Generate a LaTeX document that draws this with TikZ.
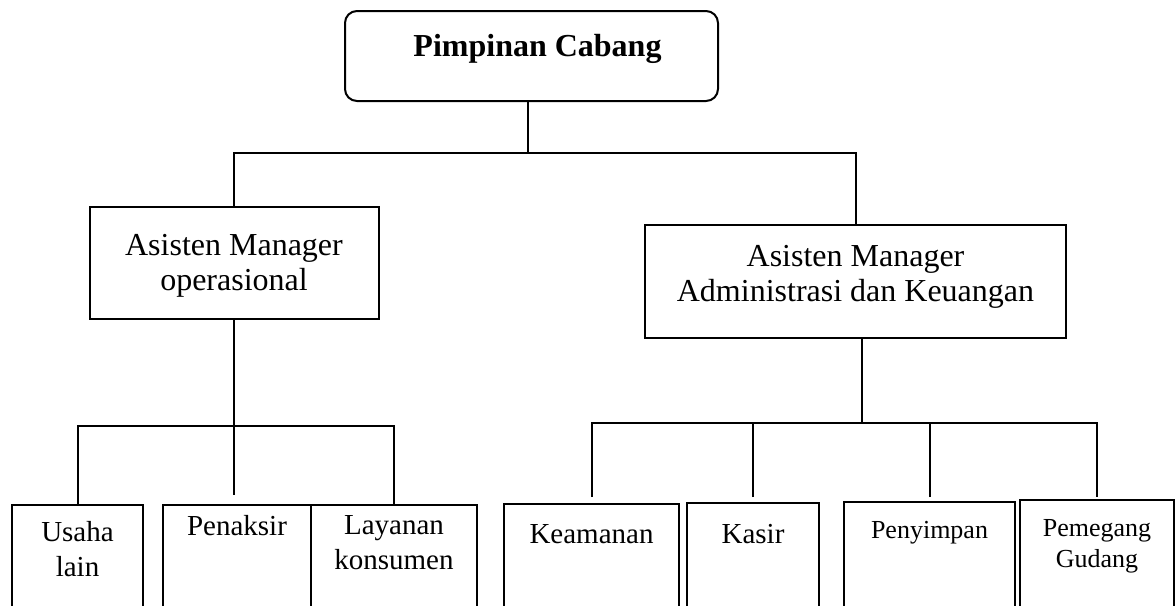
\documentclass[tikz,border=0pt]{standalone}
\usepackage{fontspec}
\setmainfont{Liberation Serif}
\begin{document}
\begin{tikzpicture}[
  x={(0.5pt,0)}, y={(0,-0.5pt)},
  line width=1pt,
  box/.style={draw, anchor=north, inner sep=0pt, align=flush center},
  head/.style={box, rounded corners=6pt, font=\fontsize{16pt}{17.5pt}\selectfont\bfseries},
  mgr/.style={box, font=\fontsize{16pt}{17.5pt}\selectfont},
  staff/.style={box, text depth=60pt, font=\fontsize{14.5pt}{17.5pt}\selectfont},
  staffsm/.style={staff, font=\fontsize{13pt}{15.5pt}\selectfont},
  link/.style={draw, line width=1pt}
]
\useasboundingbox (0,0) rectangle (1176,605);
\clip (0,0) rectangle (1176,605);

\node[head, text width=186.5pt, text height=22.5pt, text depth=22.5pt] (pc) at (531.5,10) {\hspace*{6pt}Pimpinan Cabang};
\node[mgr, text width=144.5pt, text height=24pt, text depth=32pt] (mop) at (234,206) {Asisten Manager\\operasional};
\node[mgr, text width=210.5pt, text height=20.5pt, text depth=36pt] (adm) at (855.5,224) {Asisten Manager\\Administrasi dan Keuangan};

\node[staff, text width=65.5pt, text height=18pt] (usaha) at (77.5,504) {Usaha\\lain};
\node[staff, text width=74pt, text height=15pt] (pnk) at (237,504) {Penaksir};
\node[staff, text width=83pt, text height=14.5pt] (lay) at (394,504) {Layanan\\konsumen};
\node[staff, text width=87.5pt, text height=19.5pt] (keam) at (591.5,503) {Keamanan};
\node[staff, text width=66pt, text height=20pt] (kasir) at (753,502) {Kasir};
\node[staffsm, text width=85.5pt, text height=18pt] (peny) at (929.5,501) {Penyimpan};
\node[staffsm, text width=77pt, text height=18pt] (pem) at (1097,499) {Pemegang\\Gudang};

\coordinate (busA) at (528,153);
\coordinate (busB) at (234,426);
\coordinate (busC) at (862,423);
\coordinate (opEnd) at (234,495);

\draw[link] (pc.south -| busA) -- (busA);
\draw[link] (mop.north) |- (busA) -| (adm.north);
\draw[link] (mop.south) -- (opEnd);
\draw[link] (usaha.north) |- (busB) -| (lay.north);
\draw[link] (busC |- adm.south) -- (busC);
\draw[link, shorten <=3pt, shorten >=1pt] (keam.north) |- (busC) -| (pem.north);
\draw[link, shorten <=2.5pt] (kasir.north) -- (kasir.north |- busC);
\draw[link, shorten <=2pt] (peny.north) -- (peny.north |- busC);
\end{tikzpicture}
\end{document}
